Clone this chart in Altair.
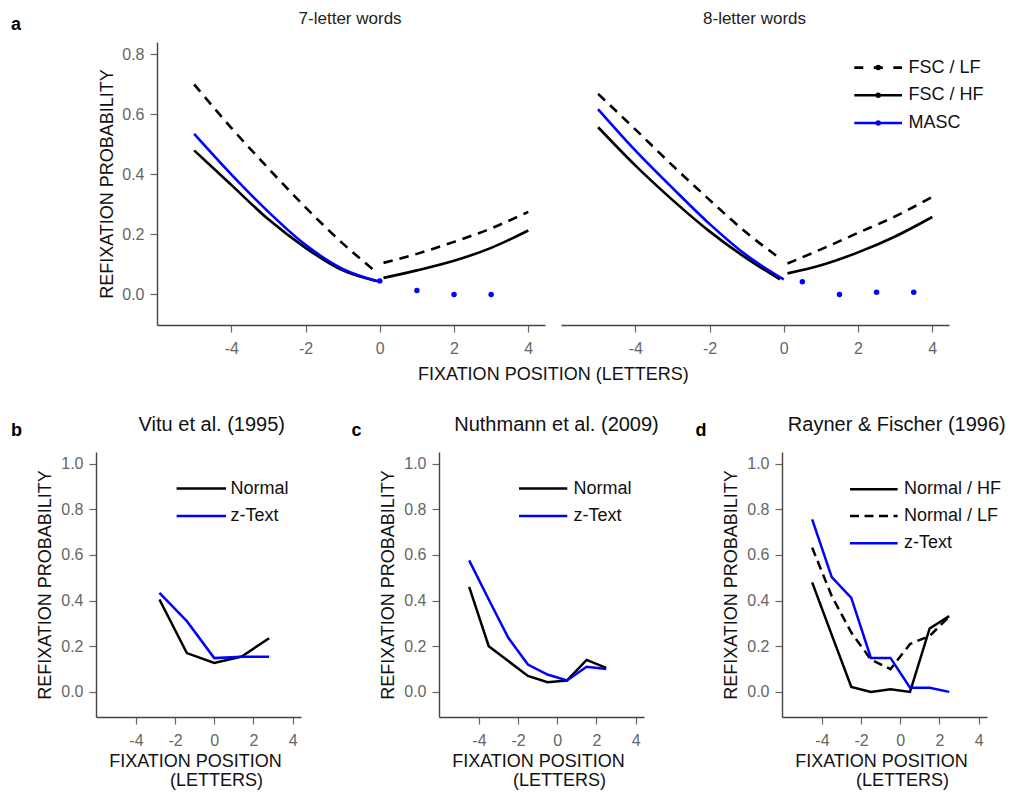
import altair as alt
import pandas as pd

FONT = "Liberation Sans"
BLUE = "#0000ff"
BLACK = "#000000"

# ---------------- panel a : 7-letter words ----------------
x7_left = [-5, -4, -3, -2, -1, -0.1]
x7_right = [0.1, 1, 2, 3, 4]
lf7_left = [0.70, 0.555, 0.42, 0.29, 0.17, 0.075]
lf7_right = [0.105, 0.135, 0.175, 0.22, 0.275]
hf7_left = [0.48, 0.365, 0.25, 0.155, 0.08, 0.045]
hf7_right = [0.055, 0.08, 0.112, 0.155, 0.213]
masc7_x = [-5, -4, -3, -2, -1, 0]
masc7 = [0.535, 0.40, 0.275, 0.165, 0.085, 0.042]
masc7_dot_x = [0, 1, 2, 3]
masc7_dot = [0.045, 0.013, 0.0, 0.0]

# ---------------- panel a : 8-letter words ----------------
x8_left = [-5, -4, -3, -2, -1, -0.1]
x8_right = [0.1, 1, 2, 3, 4]
lf8_left = [0.668, 0.55, 0.43, 0.315, 0.205, 0.12]
lf8_right = [0.103, 0.15, 0.205, 0.26, 0.325]
hf8_left = [0.557, 0.43, 0.315, 0.21, 0.12, 0.05]
hf8_right = [0.07, 0.097, 0.14, 0.193, 0.258]
masc8_x = [-5, -4, -3, -2, -1, 0]
masc8 = [0.617, 0.48, 0.355, 0.235, 0.13, 0.05]
masc8_dot_x = [0.5, 1.5, 2.5, 3.5]
masc8_dot = [0.042, 0.0, 0.007, 0.007]

top_series = ["FSC / LF", "FSC / HF", "MASC"]

# ---------------- panel b : Vitu et al. (1995) ----------------
vitu_x = [-2.8, -1.4, 0, 1.4, 2.8]
vitu_normal = [0.405, 0.17, 0.127, 0.155, 0.235]
vitu_ztext = [0.434, 0.31, 0.148, 0.154, 0.154]

# ---------------- panel c : Nuthmann et al. (2009) ----------------
nuth_x = [-4.5, -3.5, -2.5, -1.5, -0.5, 0.5, 1.5, 2.5]
nuth_normal = [0.46, 0.20, 0.135, 0.07, 0.042, 0.05, 0.14, 0.105]
nuth_ztext = [0.576, 0.405, 0.237, 0.12, 0.076, 0.05, 0.11, 0.10]

# ---------------- panel d : Rayner & Fischer (1996) ----------------
rf_x = [-4.5, -3.5, -2.5, -1.5, -0.5, 0.5, 1.5, 2.5]
rf_hf = [0.48, 0.25, 0.022, 0.0, 0.012, 0.0, 0.278, 0.332]
rf_lf = [0.632, 0.42, 0.26, 0.142, 0.10, 0.21, 0.245, 0.33]
rf_ztext = [0.756, 0.503, 0.412, 0.149, 0.149, 0.018, 0.018, 0.0]

bottom_titles = ["Vitu et al. (1995)", "Nuthmann et al. (2009)", "Rayner & Fischer (1996)"]
bottom_series_bc = ["Normal", "z-Text"]
bottom_series_d = ["Normal / HF", "Normal / LF", "z-Text"]
x_ticks = [-4, -2, 0, 2, 4]
y_ticks_top = [0.0, 0.2, 0.4, 0.6, 0.8]
y_ticks_bottom = [0.0, 0.2, 0.4, 0.6, 0.8, 1.0]

dummy = pd.DataFrame({"k": [0]})

AX = dict(domainColor="#444444", domainWidth=1.4, tickColor="#666666", tickWidth=1.2,
          tickSize=7, labelColor="#666666", labelFontSize=16, labelFont=FONT, grid=False,
          titleFont=FONT, titleFontSize=18, titleColor="#111111", titleFontWeight="normal")


def xaxis():
    return alt.Axis(values=x_ticks, title=None, labelPadding=8,
                    labelExpr="toString(datum.value)", **AX)


def yaxis(vals, pad):
    return alt.Axis(values=vals, title="REFIXATION PROBABILITY", format=".1f",
                    labelPadding=6, titlePadding=pad, **AX)


def line(xs, ys, color, xs_scale, ys_scale, yax, dash=None, width=2.6, interp="monotone"):
    df = pd.DataFrame({"x": xs, "y": ys})
    props = dict(color=color, strokeWidth=width, interpolate=interp)
    if dash:
        props["strokeDash"] = dash
    return alt.Chart(df).mark_line(**props).encode(
        x=alt.X("x:Q", scale=xs_scale, axis=xaxis()),
        y=alt.Y("y:Q", scale=ys_scale, axis=yax),
    )


def dots(xs, ys, xs_scale, ys_scale, yax):
    df = pd.DataFrame({"x": xs, "y": ys})
    return alt.Chart(df).mark_circle(color=BLUE, size=30, opacity=1).encode(
        x=alt.X("x:Q", scale=xs_scale, axis=xaxis()),
        y=alt.Y("y:Q", scale=ys_scale, axis=yax),
    )


def txt(s, x, y, size=18, align="left", baseline="alphabetic", weight="normal", color="#111111"):
    return alt.Chart(pd.DataFrame({"t": [s]})).mark_text(
        align=align, baseline=baseline, fontSize=size, font=FONT,
        fontWeight=weight, color=color).encode(text="t:N", x=alt.value(x), y=alt.value(y))


def leg_line(x1, x2, y, color, dash=None, width=2.6):
    props = dict(color=color, strokeWidth=width)
    if dash:
        props["strokeDash"] = dash
    return alt.Chart(dummy).mark_rule(**props).encode(
        x=alt.value(x1), x2=alt.value(x2), y=alt.value(y))


def leg_dot(x, y, color):
    return alt.Chart(dummy).mark_circle(color=color, size=30, opacity=1).encode(
        x=alt.value(x), y=alt.value(y))


# ---------------- top row ----------------
TW, TH = 388, 283
xs_top = alt.Scale(domain=[-6.0, 4.45], nice=False, zero=False)
ys_top = alt.Scale(domain=[-0.102, 0.841], nice=False, zero=False)
DASH_T = [9.5, 7]

y_top = yaxis(y_ticks_top, 5)
top_left = alt.layer(
    line(x7_left, lf7_left, BLACK, xs_top, ys_top, y_top, DASH_T),
    line(x7_right, lf7_right, BLACK, xs_top, ys_top, y_top, DASH_T),
    line(x7_left, hf7_left, BLACK, xs_top, ys_top, y_top),
    line(x7_right, hf7_right, BLACK, xs_top, ys_top, y_top),
    line(masc7_x, masc7, BLUE, xs_top, ys_top, y_top),
    dots(masc7_dot_x, masc7_dot, xs_top, ys_top, y_top),
    txt("a", -146, -11.7, size=18, weight="bold", color="#000000"),
    txt("7-letter words", 193.1, -18.2, size=17, align="center", color="#222222"),
    txt("FIXATION POSITION (LETTERS)", 396.3, 338.3, size=18, align="center"),
).properties(width=TW, height=TH)

leg_rows = [25.6, 53.3, 81.0]
top_right = alt.layer(
    line(x8_left, lf8_left, BLACK, xs_top, ys_top, None, DASH_T),
    line(x8_right, lf8_right, BLACK, xs_top, ys_top, None, DASH_T),
    line(x8_left, hf8_left, BLACK, xs_top, ys_top, None),
    line(x8_right, hf8_right, BLACK, xs_top, ys_top, None),
    line(masc8_x, masc8, BLUE, xs_top, ys_top, None),
    dots(masc8_dot_x, masc8_dot, xs_top, ys_top, None),
    txt("8-letter words", 193.5, -18.2, size=17, align="center", color="#222222"),
    leg_line(293.3, 341, leg_rows[0], BLACK, [9, 10.5]),
    leg_dot(317.2, leg_rows[0], BLACK),
    txt(top_series[0], 347.6, leg_rows[0], size=18, baseline="middle"),
    leg_line(293.3, 341, leg_rows[1], BLACK),
    leg_dot(317.2, leg_rows[1], BLACK),
    txt(top_series[1], 347.6, leg_rows[1], size=18, baseline="middle"),
    leg_line(293.3, 341, leg_rows[2], BLUE),
    leg_dot(317.2, leg_rows[2], BLUE),
    txt(top_series[2], 347.6, leg_rows[2], size=18, baseline="middle"),
).properties(width=TW, height=TH)

# invisible spacer that shifts the top row right of the bottom row
spacer = alt.Chart(dummy).mark_point(opacity=0).encode(
    x=alt.value(0), y=alt.value(0)).properties(width=45, height=TH)

top_row = alt.hconcat(spacer, top_left, top_right, spacing=16, bounds="flush")

# ---------------- bottom row ----------------
BW, BH = 205, 265
xs_b = alt.Scale(domain=[-6.04, 4.43], nice=False, zero=False)
ys_b = alt.Scale(domain=[-0.11, 1.051], nice=False, zero=False)
DASH_B = [9, 5.5]
y_b = yaxis(y_ticks_bottom, 6)


def xtitles():
    return [txt("FIXATION POSITION", 99.5, 315.3, size=18, align="center"),
            txt("(LETTERS)", 120.5, 334.3, size=18, align="center")]


panel_b = alt.layer(
    line(vitu_x, vitu_normal, BLACK, xs_b, ys_b, y_b, width=2.5, interp="linear"),
    line(vitu_x, vitu_ztext, BLUE, xs_b, ys_b, y_b, width=2.5, interp="linear"),
    txt("b", -85, -16, size=18, weight="bold", color="#000000"),
    txt(bottom_titles[0], 115.8, -21.4, size=20, align="center"),
    leg_line(80.6, 130, 36.6, BLACK, width=2.5),
    txt(bottom_series_bc[0], 134.5, 36.6, size=18, baseline="middle"),
    leg_line(80.6, 130, 64, BLUE, width=2.5),
    txt(bottom_series_bc[1], 134.5, 64, size=18, baseline="middle"),
    *xtitles(),
).properties(width=BW, height=BH)

panel_c = alt.layer(
    line(nuth_x, nuth_normal, BLACK, xs_b, ys_b, y_b, width=2.5, interp="linear"),
    line(nuth_x, nuth_ztext, BLUE, xs_b, ys_b, y_b, width=2.5, interp="linear"),
    txt("c", -87.5, -16, size=18, weight="bold", color="#000000"),
    txt(bottom_titles[1], 117.5, -21.4, size=20, align="center"),
    leg_line(80, 128.3, 36.6, BLACK, width=2.5),
    txt(bottom_series_bc[0], 134.5, 36.6, size=18, baseline="middle"),
    leg_line(80, 128.3, 64, BLUE, width=2.5),
    txt(bottom_series_bc[1], 134.5, 64, size=18, baseline="middle"),
    *xtitles(),
).properties(width=BW, height=BH)

panel_d = alt.layer(
    line(rf_x, rf_hf, BLACK, xs_b, ys_b, y_b, width=2.5, interp="linear"),
    line(rf_x, rf_lf, BLACK, xs_b, ys_b, y_b, dash=DASH_B, width=2.5, interp="linear"),
    line(rf_x, rf_ztext, BLUE, xs_b, ys_b, y_b, width=2.5, interp="linear"),
    txt("d", -86.5, -16, size=18, weight="bold", color="#000000"),
    txt(bottom_titles[2], 114.8, -21.4, size=20, align="center"),
    leg_line(68, 115.6, 37.3, BLACK, width=2.5),
    txt(bottom_series_d[0], 122, 37.3, size=18, baseline="middle"),
    leg_line(68, 115.6, 64, BLACK, dash=DASH_B, width=2.5),
    txt(bottom_series_d[1], 122, 64, size=18, baseline="middle"),
    leg_line(68, 115.6, 91.3, BLUE, width=2.5),
    txt(bottom_series_d[2], 122, 91.3, size=18, baseline="middle"),
    *xtitles(),
).properties(width=BW, height=BH)

bottom_row = alt.hconcat(panel_b, panel_c, panel_d, spacing=138, bounds="flush")

chart = alt.vconcat(top_row, bottom_row, spacing=29).properties(
    padding={"left": 11, "top": 9, "right": 2, "bottom": 1},
    background="white",
).configure_view(strokeWidth=0)

chart.save("out.html", embed_options={"renderer": "svg", "actions": False})
